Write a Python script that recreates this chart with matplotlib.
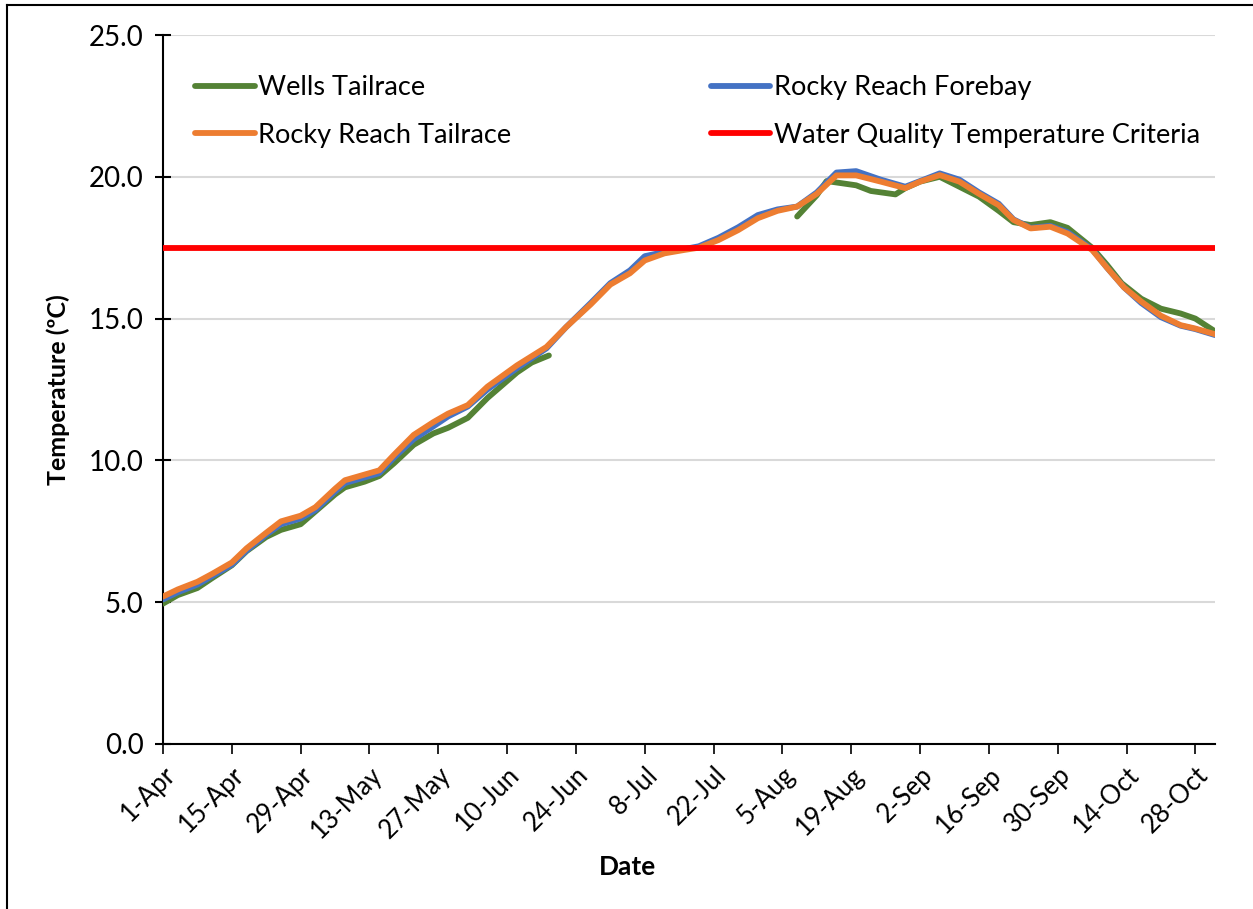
import numpy as np
import matplotlib
matplotlib.use("Agg")
import matplotlib.pyplot as plt
from matplotlib.lines import Line2D

plt.rcParams['font.family'] = ['Lato', 'DejaVu Sans']

# ---- data (day 0 = 1-Apr) ----
tick_days = [0, 14, 28, 42, 56, 70, 84, 98, 112, 126, 140, 154, 168, 182, 196, 210]
tick_labels = ['1-Apr', '15-Apr', '29-Apr', '13-May', '27-May', '10-Jun', '24-Jun',
               '8-Jul', '22-Jul', '5-Aug', '19-Aug', '2-Sep', '16-Sep', '30-Sep',
               '14-Oct', '28-Oct']

rr_tail_days = [0, 3, 7, 10, 14, 17, 21, 24, 28, 31, 35, 37, 41, 44, 47, 51, 55, 58, 62,
                66, 72, 78, 82, 87, 91, 95, 98, 102, 106, 109, 113, 117, 121, 125, 129,
                133, 137, 141, 146, 151, 154, 158, 162, 166, 170, 173, 176.5, 180.5, 184,
                189, 192, 195.5, 199, 203, 207, 210, 214]
rr_tail = [5.2, 5.45, 5.72, 6.0, 6.4, 6.9, 7.45, 7.85, 8.05, 8.35, 9.0, 9.3, 9.5, 9.65,
           10.2, 10.9, 11.35, 11.65, 11.95, 12.6, 13.35, 14.0, 14.7, 15.5, 16.2, 16.6,
           17.05, 17.3, 17.42, 17.5, 17.77, 18.12, 18.54, 18.8, 18.95, 19.4, 20.05, 20.05,
           19.83, 19.6, 19.83, 20.06, 19.83, 19.4, 19.0, 18.48, 18.18, 18.24, 18.0, 17.42,
           16.8, 16.1, 15.6, 15.1, 14.77, 14.65, 14.45]

rr_fore = [5.1, 5.35, 5.62, 5.92, 6.32, 6.82, 7.38, 7.75, 7.95, 8.25, 8.9, 9.2, 9.4, 9.55,
           10.1, 10.75, 11.2, 11.55, 11.9, 12.5, 13.25, 13.95, 14.7, 15.55, 16.25, 16.7,
           17.2, 17.35, 17.45, 17.55, 17.85, 18.22, 18.65, 18.85, 18.95, 19.45, 20.15, 20.2,
           19.9, 19.65, 19.85, 20.12, 19.9, 19.45, 19.05, 18.5, 18.2, 18.27, 18.05, 17.45,
           16.8, 16.1, 15.55, 15.05, 14.75, 14.63, 14.42]

wells_days = [0, 3, 7, 10, 14, 17, 21, 24, 28, 31, 35, 37, 41, 44, 47, 51, 55, 58, 62,
              66, 72, 75, 78.5, 100, 129, 133, 135, 137, 141, 144, 149, 151, 154, 158,
              162, 166, 170, 173, 176.5, 180.5, 184, 189, 192, 195, 199, 203, 207, 210, 214]
wells = [4.95, 5.25, 5.5, 5.85, 6.3, 6.8, 7.3, 7.55, 7.75, 8.2, 8.8, 9.05, 9.25, 9.45,
         9.9, 10.55, 10.95, 11.15, 11.5, 12.2, 13.1, 13.45, 13.7, np.nan, 18.6, 19.35,
         19.85, 19.8, 19.7, 19.5, 19.38, 19.6, 19.83, 20.0, 19.65, 19.3, 18.8, 18.4, 18.3,
         18.4, 18.2, 17.5, 16.9, 16.25, 15.7, 15.35, 15.18, 15.0, 14.55]

criteria_value = 17.5

# ---- figure ----
fig = plt.figure(figsize=(12.53, 9.09), dpi=100)
ax = fig.add_axes([163/1253, 1-744/909, (1215-163)/1253, (744-35)/909])

LW = 4.2
ax.plot(wells_days, wells, color='#548235', lw=LW, solid_capstyle='round',
        solid_joinstyle='round', label='Wells Tailrace', zorder=3)
ax.plot(rr_tail_days, rr_fore, color='#4472C4', lw=LW, solid_capstyle='round',
        solid_joinstyle='round', label='Rocky Reach Forebay', zorder=4)
ax.plot(rr_tail_days, rr_tail, color='#ED7D31', lw=LW, solid_capstyle='round',
        solid_joinstyle='round', label='Rocky Reach Tailrace', zorder=5)
ax.axhline(criteria_value, color='#FF0000', lw=LW, solid_capstyle='round',
           label='Water Quality Temperature Criteria', zorder=6)

ax.set_xlim(0, 214)
ax.set_ylim(0, 25)
ax.set_yticks([0, 5, 10, 15, 20, 25])
ax.set_yticklabels([f'{v:.1f}' for v in [0, 5, 10, 15, 20, 25]])
ax.set_xticks(tick_days)
ax.set_xticklabels(tick_labels, rotation=45, ha='right', va='top',
                   rotation_mode='anchor')

ax.grid(axis='y', color='#D9D9D9', lw=1.5, zorder=0)
ax.set_axisbelow(True)
for s in ['top', 'right']:
    ax.spines[s].set_visible(False)
ax.spines['left'].set_linewidth(1.5)
ax.spines['bottom'].set_linewidth(1.5)

ax.tick_params(axis='y', direction='inout', length=12, width=1.5, labelsize=20,
               pad=8, colors='black')
ax.tick_params(axis='x', direction='out', length=7, width=1.2, labelsize=18.5,
               pad=6)

ax.set_ylabel('Temperature (ºC)', fontsize=18, fontweight='bold')
ax.yaxis.set_label_coords(-0.088, 0.5)
ax.set_xlabel('Date', fontsize=19, fontweight='bold')
ax.xaxis.set_label_coords(0.442, -0.1566)

handles, labels = ax.get_legend_handles_labels()
order = [0, 2, 1, 3]
leg = ax.legend([handles[i] for i in order], [labels[i] for i in order],
                ncol=2, loc='upper left', mode='expand',
                bbox_to_anchor=(0.0304, 0.0, 0.955, 0.9436),
                frameon=False, fontsize=19.5, handlelength=2.2, handletextpad=0.12,
                labelspacing=0.84, borderpad=0, borderaxespad=0)

# outer border (left and top)
fig.add_artist(Line2D([7/1253, 7/1253], [0, 1-5/909], color='black', lw=1.5,
                      transform=fig.transFigure))
fig.add_artist(Line2D([7/1253, 1], [1-5/909, 1-5/909], color='black', lw=1.5,
                      transform=fig.transFigure))

fig.savefig('out.png', dpi=100)
